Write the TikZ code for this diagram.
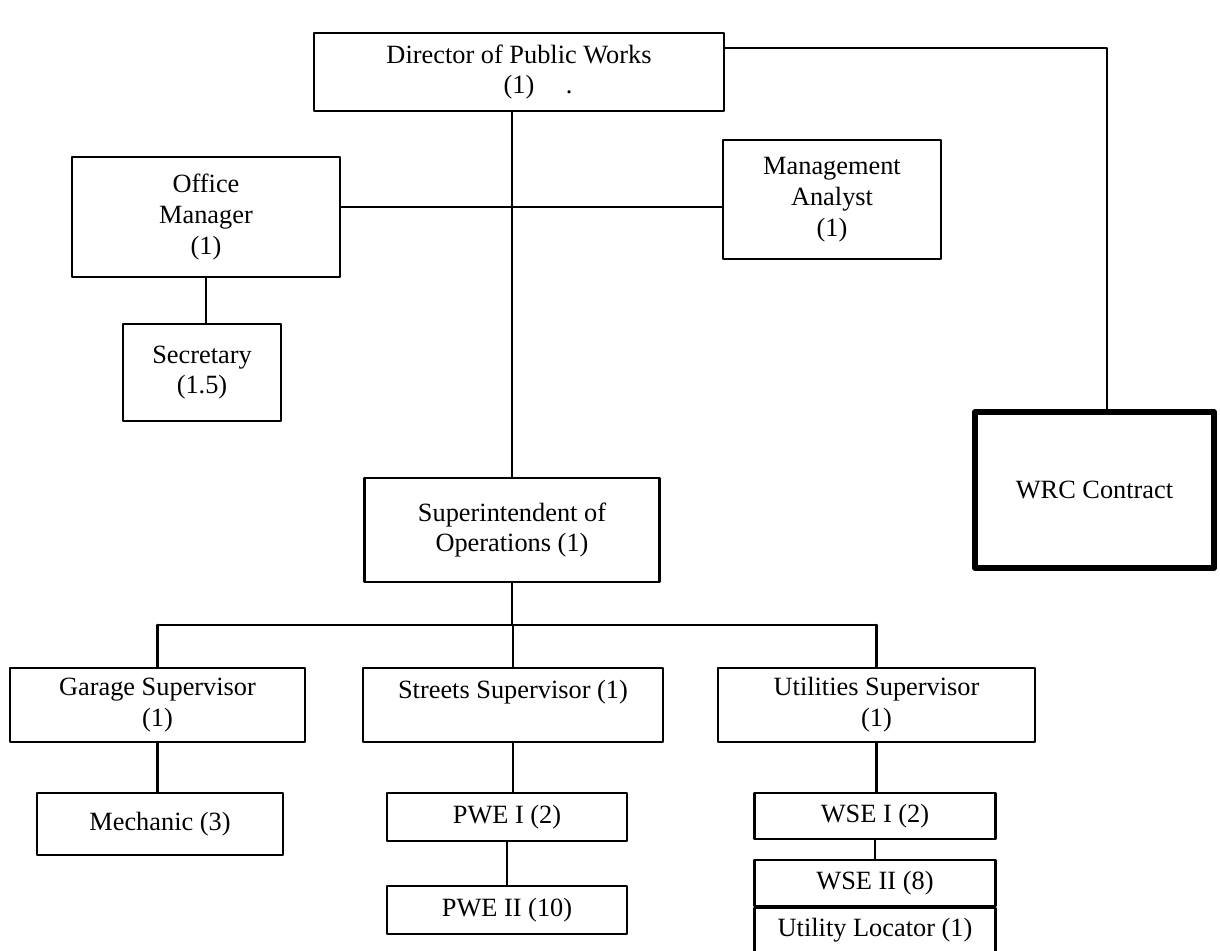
\documentclass[tikz,border=0pt]{standalone}
\usepackage{fontspec}
\setmainfont{Liberation Serif}
\begin{document}
\begin{tikzpicture}[x=0.02cm,y=-0.02cm,line cap=round,line join=round,font=\fontsize{15}{17.5}\selectfont,
	post/.style={draw,line width=1.4pt,align=center,inner sep=0pt,fill=white},
	wh/.style 2 args={minimum width=#1*0.02cm,minimum height=#2*0.02cm},
	link/.style={line width=1.4pt}]
	\useasboundingbox (0,0) rectangle (1220,950);
	% top level
	\node[post,wh={410}{78}] (dir) at (519,72) {Director of Public Works\\(1)\rlap{\hspace{1.2em}.}};
	\node[post,wh={268}{120}] (om) at (206,217) {Office\\Manager\\(1)};
	\node[post,wh={218}{119}] (ma) at (832,199.5) {Management\\Analyst\\(1)};
	\node[post,wh={158}{97}] (sec) at (202,372.5) {Secretary\\(1.5)};
	\node[post,wh={239}{156},line width=3.5pt] (wrc) at (1094.5,490) {WRC Contract};
	\node[post,wh={295}{104}] (sup) at (512,530) {Superintendent of\\Operations (1)};
	% supervisors
	\node[post,wh={295}{74}] (gar) at (157.5,705) {Garage Supervisor\\(1)};
	\node[post,wh={300}{74}] (str) at (513,705) {Streets Supervisor (1)\\\mbox{}};
	\node[post,wh={317}{74}] (uti) at (876.5,705) {Utilities Supervisor\\(1)};
	% staff
	\node[post,wh={246}{62}] (mech) at (160,824) {Mechanic (3)};
	\node[post,wh={240}{48}] (pwe1) at (507,817) {PWE I (2)};
	\node[post,wh={240}{48}] (pwe2) at (507,910) {PWE II (10)};
	\node[post,wh={241}{46}] (wse1) at (875,816) {WSE I (2)};
	\node[post,wh={241}{46}] (wse2) at (875,883) {WSE II (8)};
	\node[post,wh={241}{44}] (ul) at (875,930) {Utility Locator (1)};
	\path (510,207) coordinate (mid) (1107,48) coordinate (turn) (510,625) coordinate (bus);
	% connectors
	\draw[link] (sup.north |- dir.south) -- (sup.north);
	\draw[link] (om.east |- mid) -- (ma.west |- mid);
	\draw[link] (dir.east |- turn) -- (turn) -- (turn |- wrc.north);
	\draw[link] (om.south) -- (om.south |- sec.north);
	\draw[link] (sup.south) -- (sup.south |- bus);
	\draw[link] (gar.north |- bus) -- (uti.north |- bus);
	\foreach \s in {gar,str,uti}
		\draw[link] (\s.north) -- (\s.north |- bus);
	\foreach \a/\b in {gar/mech,str/pwe1,pwe1/pwe2,uti/wse1,wse1/wse2,wse2/ul}
		\draw[link] (\a.south) -- (\a.south |- \b.north);
\end{tikzpicture}
\end{document}
